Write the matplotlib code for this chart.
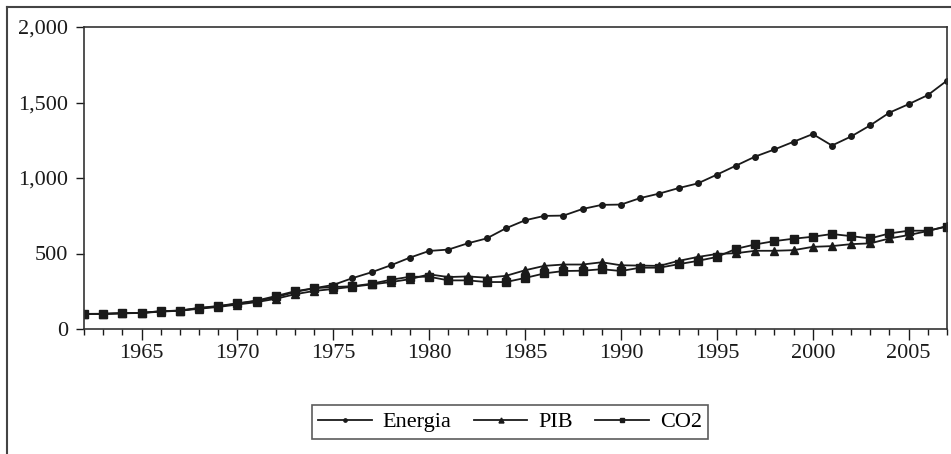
import matplotlib
matplotlib.use("Agg")
import matplotlib.pyplot as plt
from matplotlib.lines import Line2D
from matplotlib.ticker import FuncFormatter, MultipleLocator

years = list(range(1962, 2008))

energia = [100, 100, 105, 107, 117, 122, 138, 150, 168, 186,
           210, 245, 270, 292, 337, 376, 422, 473, 517, 526,
           567, 600, 667, 720, 749, 751, 795, 822, 824, 867,
           897, 933, 964, 1022, 1082, 1142, 1189, 1240, 1291, 1215,
           1275, 1349, 1433, 1489, 1549, 1645]

pib = [100, 101, 104, 106, 115, 121, 134, 146, 162, 178,
       200, 230, 252, 265, 280, 295, 311, 330, 362, 344,
       348, 340, 352, 389, 418, 427, 427, 442, 422, 420,
       418, 451, 477, 497, 502, 518, 518, 522, 544, 549,
       562, 567, 600, 622, 649, 682]

co2 = [100, 100, 104, 107, 118, 122, 140, 152, 170, 188,
       218, 250, 270, 278, 283, 300, 326, 346, 346, 322,
       322, 311, 311, 338, 368, 384, 386, 396, 384, 406,
       406, 429, 451, 477, 531, 560, 582, 598, 611, 629,
       615, 600, 633, 651, 651, 678]

plt.rcParams['font.family'] = ['Liberation Serif', 'DejaVu Serif']
plt.rcParams['font.size'] = 16

fig = plt.figure(figsize=(9.51, 4.54), dpi=100)
ax = fig.add_axes([84 / 951, 1 - 329 / 454, (947 - 84) / 951, (329 - 27) / 454])

col = '#1a1a1a'
ax.plot(years, energia, color=col, lw=1.3, marker='o', ms=4, label='Energia')
ax.plot(years, pib, color=col, lw=1.3, marker='^', ms=6, label='PIB')
ax.plot(years, co2, color=col, lw=1.3, marker='s', ms=5.5, label='CO2')

ax.set_xlim(1962, 2007)
ax.set_ylim(0, 2000)
ax.xaxis.set_major_locator(MultipleLocator(5))
ax.xaxis.set_minor_locator(MultipleLocator(1))
ax.yaxis.set_major_locator(MultipleLocator(500))
ax.yaxis.set_major_formatter(FuncFormatter(lambda v, p: f'{int(v):,}'))

ax.tick_params(axis='x', which='major', direction='out', length=8, width=1, pad=3, colors=col)
ax.tick_params(axis='x', which='minor', direction='out', length=4, width=1, colors=col)
ax.tick_params(axis='y', direction='out', length=5.5, width=1, pad=6, colors=col)
for s in ax.spines.values():
    s.set_color('#333333')
    s.set_linewidth(1.2)

leg = ax.legend(loc='center', bbox_to_anchor=(510 / 951, 1 - 422 / 454),
                bbox_transform=fig.transFigure, ncol=3, frameon=True,
                fancybox=False, handlelength=2.4, columnspacing=1.0,
                handletextpad=0.5, borderpad=0.3, markerscale=0.6)
leg.get_frame().set_edgecolor('#333333')
leg.get_frame().set_linewidth(1.2)

# outer frame (left and top edges visible)
fig.add_artist(Line2D([7 / 951, 7 / 951], [0, 1 - 7 / 454], transform=fig.transFigure,
                      color='#444444', lw=1.5))
fig.add_artist(Line2D([7 / 951, 1], [1 - 7 / 454, 1 - 7 / 454], transform=fig.transFigure,
                      color='#444444', lw=1.5))

fig.savefig('out.png', dpi=100)
